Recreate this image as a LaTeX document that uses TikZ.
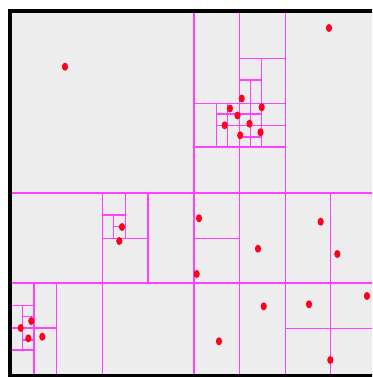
\documentclass[tikz,border=0pt]{standalone}
\definecolor{qmag}{RGB}{255,64,255}
\definecolor{qred}{RGB}{255,0,30}
\definecolor{qbg}{RGB}{237,237,237}
\begin{document}
\begin{tikzpicture}[x=1pt,y=-1pt,
  qline/.style={draw=qmag, line width=1.6pt},
  qpt/.style={fill=qred, draw=none}]
\useasboundingbox (0,0) rectangle (372,377);
\clip (0,0) rectangle (372,377);
\fill[white] (0,0) rectangle (372,377);
\fill[qbg] (10,11) rectangle (382,376);
% horizontal splits: y, x1, x2
\foreach \y/\a/\b in {193/10/382, 283/10/382, 328.5/285.5/382,
  103.5/194/285.5, 147/194/285.5, 58.5/239.5/285.5, 80/239.5/261.5,
  114/216.5/261.5, 125.5/216.5/285.5, 137/239.5/261.5,
  238.5/194/239.5, 238.5/102.5/148, 215/102.5/125.5, 226.5/113.5/125.5,
  305.5/10/34, 328/10/56.5, 350/10/34, 316.5/22.5/34, 340/22.5/34}
  \draw[qline] (\a,\y) -- (\b,\y);
% vertical splits: x, y1, y2
\foreach \x/\a/\b in {194/12/376, 239.5/12/376, 285.5/12/376, 330.5/193/376,
  102.5/193/376, 148/193/283, 125.5/193/238.5, 113.5/215/238.5,
  34/283/376, 56.5/283/376, 22.5/305.5/350,
  216.5/103.5/147, 227.5/103.5/147, 250.5/80/147, 261.5/58.5/147}
  \draw[qline] (\x,\a) -- (\x,\b);
% points
\foreach \x/\y in {65/66.7, 329/28, 241.7/98.5, 229.9/108.5, 261.7/107.3,
  237.5/115.5, 224.7/125.3, 249.5/123.7, 240.2/135.3, 260.5/132.3,
  199/218.3, 258/248.7, 196.7/274, 320.7/221.7, 337.3/254, 367/296,
  263.7/306.3, 309/304.3, 219/341.3, 330.3/360, 122/227, 119.3/241,
  31.3/321, 20.7/328, 28.3/338.3, 42.3/336.7}
  \fill[qpt] (\x,\y) ellipse (3.1 and 4);
% frame
\draw[line width=3.6pt, black] (9.8,11.2) rectangle (384,375.6);
\end{tikzpicture}
\end{document}
